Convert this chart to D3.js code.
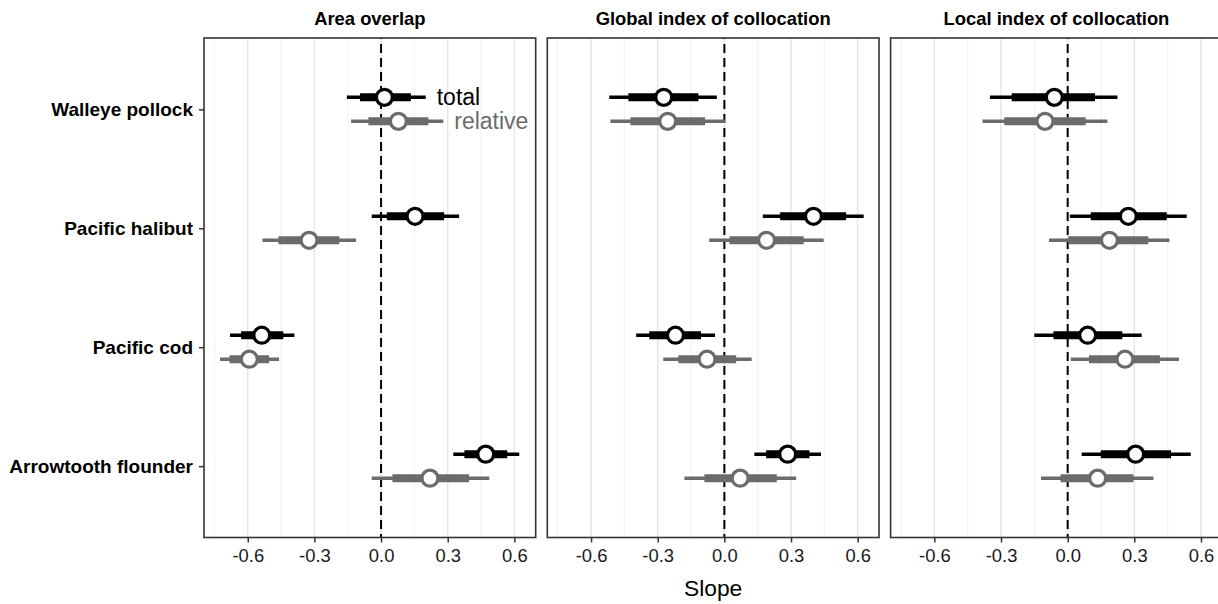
<!DOCTYPE html>
<html>
<head>
<meta charset="utf-8">
<script src="https://cdn.jsdelivr.net/npm/d3@7"></script>
<style>
  body { margin: 0; background: #fff; }
  text { font-family: "Liberation Sans", Arial, sans-serif; }
</style>
</head>
<body>
<svg></svg>
<script>
var width = 1218, height = 604;

// categories
var species = ["Walleye pollock", "Pacific halibut", "Pacific cod", "Arrowtooth flounder"];
var metrics = ["Area overlap", "Global index of collocation", "Local index of collocation"];
var types = ["total", "relative"];
var xTicks = [-0.6, -0.3, 0.0, 0.3, 0.6];
var xMinor = [-0.75, -0.45, -0.15, 0.15, 0.45];

// each row: [lo95, lo80, estimate, hi80, hi95], one row per species
var areaTotal = [[-0.154, -0.095, 0.015, 0.134, 0.201], [-0.042, 0.026, 0.153, 0.284, 0.351],
  [-0.68, -0.63, -0.537, -0.44, -0.39], [0.325, 0.375, 0.471, 0.568, 0.622]];
var areaRelative = [[-0.135, -0.057, 0.078, 0.213, 0.28], [-0.534, -0.462, -0.324, -0.188, -0.113],
  [-0.725, -0.682, -0.593, -0.504, -0.459], [-0.042, 0.051, 0.22, 0.396, 0.487]];
var globalTotal = [[-0.518, -0.432, -0.273, -0.117, -0.034], [0.173, 0.251, 0.401, 0.548, 0.627],
  [-0.397, -0.338, -0.22, -0.105, -0.042], [0.135, 0.188, 0.285, 0.383, 0.435]];
var globalRelative = [[-0.513, -0.423, -0.255, -0.087, 0.003], [-0.068, 0.023, 0.19, 0.357, 0.447],
  [-0.275, -0.207, -0.078, 0.053, 0.123], [-0.18, -0.09, 0.071, 0.236, 0.323]];
var localTotal = [[-0.35, -0.252, -0.06, 0.123, 0.224], [0.01, 0.104, 0.273, 0.446, 0.536],
  [-0.15, -0.064, 0.09, 0.246, 0.333], [0.063, 0.149, 0.306, 0.465, 0.554]];
var localRelative = [[-0.383, -0.285, -0.102, 0.081, 0.179], [-0.084, 0.003, 0.188, 0.363, 0.458],
  [0.014, 0.096, 0.258, 0.415, 0.501], [-0.12, -0.032, 0.135, 0.296, 0.386]];

var seriesByMetric = [[areaTotal, areaRelative], [globalTotal, globalRelative], [localTotal, localRelative]];
var colors = {total: "#000000", relative: "#6b6b6b"};

var svg = d3.select("svg").attr("width", width).attr("height", height);

var panelLeft = 204, panelTop = 38, panelW = 331.7, panelH = 499.5, gap = 11.6;

var x = d3.scaleLinear().domain([-0.797, 0.696]).range([0, panelW]);
var y = d3.scaleLinear().domain([0.4, 4.6]).range([0, panelH]);
var dodge = {total: -12, relative: 12};

// plain hyphen for negatives, like the original
function fmt(d) { return d3.format(".1f")(d).replace("\u2212", "-"); }

metrics.forEach(function(m, mi) {
  var g = svg.append("g")
    .attr("transform", "translate(" + (panelLeft + mi * (panelW + gap)) + "," + panelTop + ")");

  // grid
  g.selectAll(".minor").data(xMinor).enter().append("line")
    .attr("x1", function(d) { return x(d); }).attr("x2", function(d) { return x(d); })
    .attr("y1", 0).attr("y2", panelH)
    .attr("stroke", "#ebebeb").attr("stroke-width", 0.8);
  g.selectAll(".major").data(xTicks).enter().append("line")
    .attr("x1", function(d) { return x(d); }).attr("x2", function(d) { return x(d); })
    .attr("y1", 0).attr("y2", panelH)
    .attr("stroke", "#e6e6e6").attr("stroke-width", 1.5);

  // zero line
  g.append("line")
    .attr("x1", x(0)).attr("x2", x(0)).attr("y1", 0).attr("y2", panelH)
    .attr("stroke", "#000").attr("stroke-width", 2).attr("stroke-dasharray", "9,5")
    .attr("stroke-dashoffset", -6);

  types.forEach(function(t, ti) {
    var rows = seriesByMetric[mi][ti].map(function(r, i) {
      return {sp: species[i], i: i, lo95: r[0], lo80: r[1], est: r[2], hi80: r[3], hi95: r[4]};
    });
    var s = g.append("g").attr("class", t);
    s.selectAll(".thin").data(rows).enter().append("line")
      .attr("x1", function(d) { return x(d.lo95); }).attr("x2", function(d) { return x(d.hi95); })
      .attr("y1", function(d) { return y(d.i + 1) + dodge[t]; })
      .attr("y2", function(d) { return y(d.i + 1) + dodge[t]; })
      .attr("stroke", colors[t]).attr("stroke-width", 3.5);
    s.selectAll(".thick").data(rows).enter().append("line")
      .attr("x1", function(d) { return x(d.lo80); }).attr("x2", function(d) { return x(d.hi80); })
      .attr("y1", function(d) { return y(d.i + 1) + dodge[t]; })
      .attr("y2", function(d) { return y(d.i + 1) + dodge[t]; })
      .attr("stroke", colors[t]).attr("stroke-width", 8);
    s.selectAll("circle").data(rows).enter().append("circle")
      .attr("cx", function(d) { return x(d.est); })
      .attr("cy", function(d) { return y(d.i + 1) + dodge[t]; })
      .attr("r", 8)
      .attr("fill", "#fff").attr("stroke", colors[t]).attr("stroke-width", 3.3);

    // labels next to walleye pollock in first panel
    if (mi == 0) {
      s.append("text")
        .attr("x", x(rows[0].hi95) + 11)
        .attr("y", y(1) + dodge[t])
        .attr("dy", "0.35em")
        .attr("font-size", 23)
        .attr("fill", colors[t])
        .text(t);
    }
  });

  // border
  g.append("rect")
    .attr("width", panelW).attr("height", panelH)
    .attr("fill", "none").attr("stroke", "#333").attr("stroke-width", 1.6);

  // x axis
  var xa = g.append("g").attr("transform", "translate(0," + panelH + ")")
    .call(d3.axisBottom(x).tickValues(xTicks).tickFormat(fmt).tickSize(5).tickPadding(6));
  xa.select(".domain").remove();
  xa.selectAll("line").attr("stroke", "#333").attr("stroke-width", 1.5);
  xa.selectAll("text").attr("font-size", 18.4).attr("fill", "#1a1a1a")
    .attr("font-family", "Liberation Sans, Arial, sans-serif");

  // strip title
  g.append("text")
    .attr("x", panelW / 2).attr("y", -13)
    .attr("text-anchor", "middle")
    .attr("font-size", 18.4).attr("font-weight", "bold")
    .text(m);

  if (mi == 0) {
    var ya = g.append("g")
      .call(d3.axisLeft(y).tickValues([1, 2, 3, 4])
        .tickFormat(function(d) { return species[d - 1]; }).tickSize(5).tickPadding(6));
    ya.select(".domain").remove();
    ya.selectAll("line").attr("stroke", "#333").attr("stroke-width", 1.5);
    ya.selectAll("text").attr("font-size", 19).attr("font-weight", "bold").attr("fill", "#000")
      .attr("font-family", "Liberation Sans, Arial, sans-serif");
  }
});

// x axis title, centred under the middle panel
svg.append("text")
  .attr("x", panelLeft + panelW + gap + panelW / 2)
  .attr("y", 596)
  .attr("text-anchor", "middle")
  .attr("font-size", 22.8)
  .text("Slope");
</script>
</body>
</html>
